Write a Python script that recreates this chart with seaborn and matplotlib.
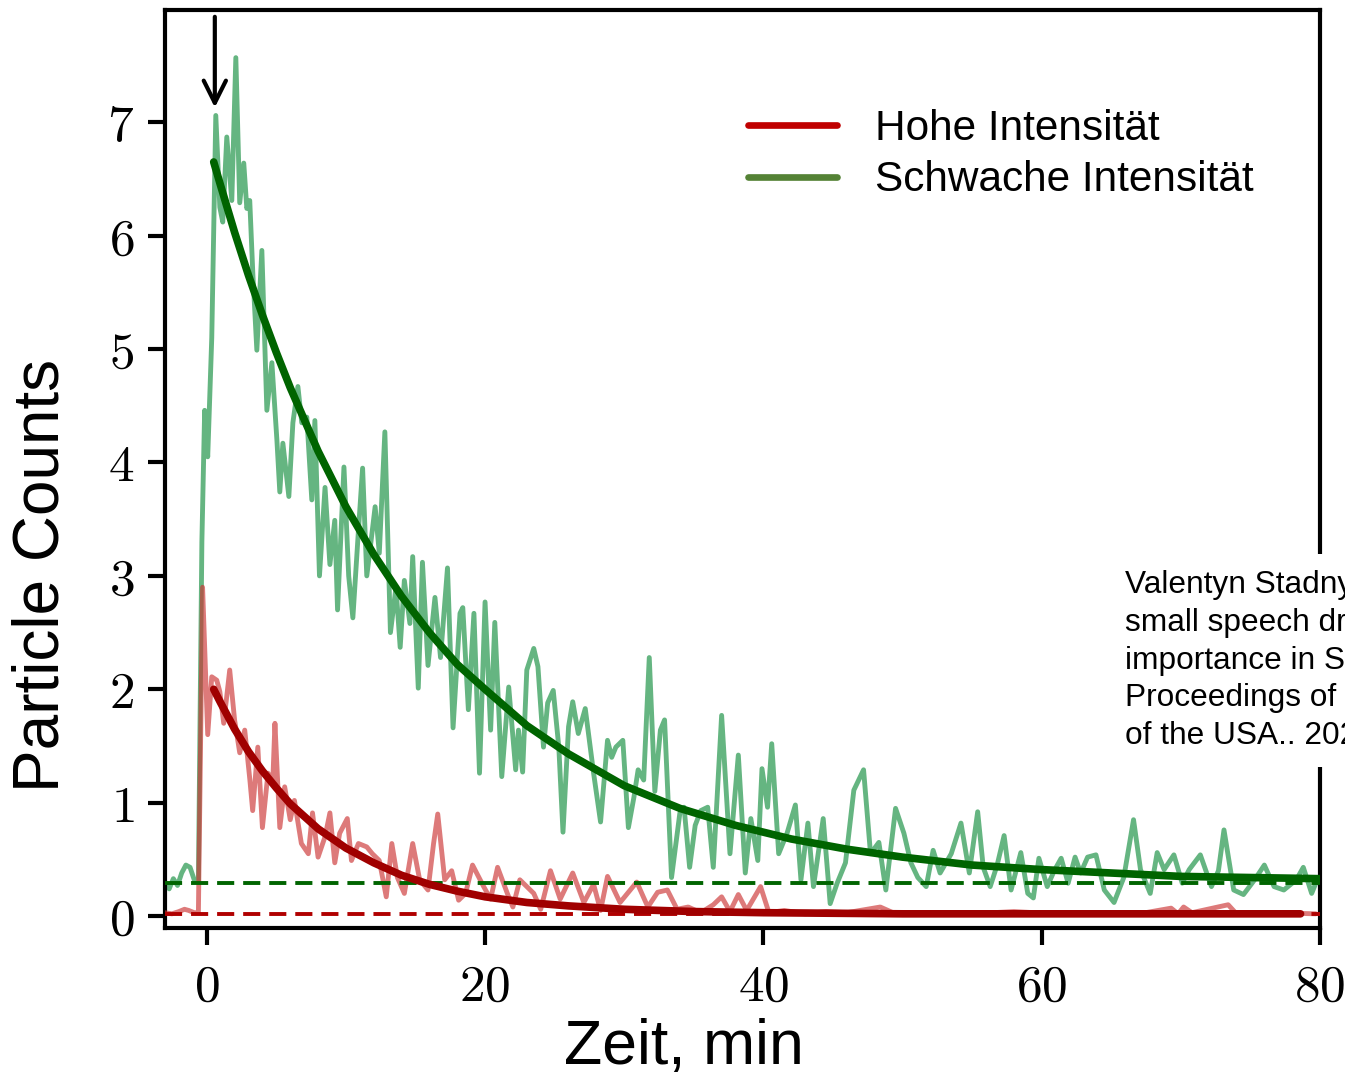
import numpy as np
import pandas as pd
import matplotlib
matplotlib.use("Agg")
import matplotlib.pyplot as plt
import seaborn as sns
from matplotlib.lines import Line2D
from matplotlib.ticker import FuncFormatter

# ---------------- data ----------------
green_t = [-3.0, -2.7, -2.4, -2.1, -1.8, -1.5, -1.2, -0.9, -0.6, -0.35, -0.15, 0.07, 0.36, 0.65,
           0.94, 1.15, 1.44, 1.80, 2.09, 2.37, 2.66, 2.88, 3.09, 3.31, 3.60, 3.96, 4.32, 4.68, 5.04,
           5.25, 5.47, 5.90, 6.19, 6.55, 6.83, 7.19, 7.55, 7.77, 8.10, 8.50, 8.85, 9.20, 9.40, 9.86,
           10.20, 10.50, 10.90, 11.20, 11.50, 11.80, 12.10, 12.40, 12.80, 13.20, 13.60, 13.90, 14.20,
           14.60, 14.80, 15.20, 15.50, 15.90, 16.40, 16.80, 17.30, 17.70, 18.20, 18.40, 18.80, 19.20,
           19.60, 20.00, 20.40, 20.70, 21.20, 21.70, 22.20, 22.40, 22.70, 23.00, 23.50, 23.80, 24.20,
           24.50, 24.90, 25.30, 25.60, 26.00, 26.30, 26.70, 27.20, 27.80, 28.30, 28.80, 29.10, 29.40,
           29.90, 30.30, 30.70, 31.00, 31.40, 31.80, 32.20, 32.60, 32.90, 33.40, 34.00, 34.30, 34.70,
           35.10, 35.50, 36.00, 36.40, 37.00, 37.60, 38.20, 38.70, 39.10, 39.60, 39.90, 40.30, 40.60,
           41.10, 41.70, 42.30, 42.70, 43.20, 43.60, 44.30, 44.80, 45.30, 45.90, 46.50, 47.20, 47.70,
           48.30, 48.80, 49.50, 50.10, 50.60, 51.10, 51.70, 52.20, 52.70, 53.50, 54.20, 54.80, 55.40,
           55.80, 56.30, 56.80, 57.30, 57.80, 58.50, 59.00, 59.40, 59.80, 60.40, 60.90, 61.40, 61.90,
           62.40, 62.80, 63.30, 63.90, 64.50, 65.20, 65.90, 66.60, 67.10, 67.80, 68.30, 68.80, 69.50,
           70.10, 70.60, 71.40, 72.20, 72.70, 73.10, 73.80, 74.50, 75.30, 76.00, 76.70, 77.40, 78.30,
           78.80, 79.40, 79.70]
green_v = [0.30, 0.24, 0.33, 0.27, 0.38, 0.45, 0.43, 0.32, 0.30, 3.30, 4.46, 4.05, 5.10, 7.06,
           6.25, 6.12, 6.87, 6.31, 7.57, 6.29, 6.64, 6.24, 6.31, 5.67, 4.99, 5.87, 4.46, 4.88, 4.20,
           3.74, 4.17, 3.70, 4.35, 4.67, 4.35, 4.40, 3.67, 4.37, 3.00, 3.78, 3.10, 3.49, 2.70, 3.96,
           3.00, 2.63, 3.40, 3.95, 3.00, 3.30, 3.61, 3.20, 4.27, 2.50, 2.90, 2.37, 2.96,
           2.58, 3.17, 2.01, 3.12, 2.21, 2.81, 2.28, 3.07, 1.66, 2.67, 2.72, 1.82, 2.67,
           1.26, 2.77, 1.64, 2.59, 1.23, 2.02, 1.29, 1.64, 1.27, 2.17, 2.36, 2.20, 1.49,
           1.88, 1.99, 1.49, 0.74, 1.67, 1.89, 1.61, 1.83, 1.26, 0.83, 1.55, 1.40, 1.49,
           1.55, 0.78, 1.05, 1.29, 1.20, 2.28, 1.10, 1.64, 1.73, 0.34, 0.91, 0.96, 0.43,
           0.80, 0.93, 0.96, 0.43, 1.77, 0.55, 1.42, 0.38, 0.86, 0.49, 1.30, 0.96, 1.52,
           0.55, 0.73, 0.98, 0.32, 0.82, 0.26, 0.86, 0.11, 0.29, 0.47, 1.11, 1.29, 0.55,
           0.65, 0.23, 0.95, 0.73, 0.47, 0.34, 0.26, 0.58, 0.38, 0.55, 0.82, 0.38, 0.92,
           0.43, 0.26, 0.45, 0.71, 0.23, 0.56, 0.20, 0.16, 0.51, 0.26, 0.40, 0.51, 0.29,
           0.52, 0.38, 0.52, 0.54, 0.23, 0.12, 0.34, 0.85, 0.41, 0.20, 0.56, 0.41, 0.54,
           0.29, 0.41, 0.54, 0.26, 0.40, 0.76, 0.23, 0.19, 0.32, 0.45, 0.26, 0.23, 0.32,
           0.43, 0.20, 0.29]

red_t = [-3.0, -2.5, -2.0, -1.6, -1.3, -0.9, -0.6, -0.3, 0.07, 0.36, 0.72, 0.94, 1.22, 1.65, 2.00,
         2.37, 2.73, 3.10, 3.30, 3.67, 4.00, 4.40, 4.75, 4.90, 5.25, 5.60, 6.00, 6.30, 6.80, 7.30,
         7.60, 8.00, 8.50, 8.85, 9.20, 9.55, 10.10, 10.40, 10.90, 11.50, 11.90, 12.40, 12.90, 13.30,
         13.70, 14.20, 14.80, 15.30, 15.90, 16.30, 16.60, 17.10, 17.60, 18.10, 18.60, 19.10, 19.90,
         20.40, 20.90, 21.60, 22.00, 22.50, 23.50, 24.00, 24.70, 25.40, 26.30, 27.10, 27.80, 28.30,
         28.80, 29.70, 30.90, 31.70, 32.40, 33.10, 33.80, 34.60, 35.50, 36.40, 37.00, 37.60, 38.20,
         38.80, 39.80, 40.40, 41.50, 43.00, 44.50, 46.00, 48.40, 49.50, 52.00, 55.00, 58.00, 61.00,
         64.00, 67.00, 69.30, 69.80, 70.20, 70.80, 73.40, 74.00, 76.50, 79.70]
red_v = [0.03, 0.02, 0.04, 0.06, 0.05, 0.03, 0.03, 2.90, 1.60, 2.11, 2.08, 1.98, 1.70, 2.17, 1.73,
         1.44, 1.64, 1.20, 0.93, 1.49, 0.78, 1.26, 1.20, 1.70, 0.78, 1.14, 0.85, 1.02, 0.64, 0.55,
         0.91, 0.52, 0.70, 0.91, 0.47, 0.73, 0.86, 0.49, 0.64, 0.61, 0.55, 0.49, 0.17, 0.64,
         0.34, 0.20, 0.64, 0.32, 0.23, 0.64, 0.90, 0.32, 0.40, 0.14, 0.20, 0.45, 0.26,
         0.15, 0.43, 0.20, 0.08, 0.32, 0.20, 0.06, 0.40, 0.15, 0.38, 0.12, 0.28, 0.05,
         0.35, 0.12, 0.30, 0.08, 0.21, 0.23, 0.06, 0.08, 0.03, 0.10, 0.17, 0.04, 0.19,
         0.05, 0.26, 0.03, 0.05, 0.02, 0.04, 0.03, 0.08, 0.02, 0.03, 0.02, 0.04, 0.02,
         0.03, 0.02, 0.07, 0.02, 0.08, 0.03, 0.10, 0.02, 0.03, 0.02]

green_fit_t = [0.5, 1, 2, 3, 4, 5, 6, 8, 10, 12, 14, 16, 18, 20, 23, 26, 30, 34, 38, 42, 46, 50,
               55, 60, 65, 70, 75, 80]
green_fit_v = [6.65, 6.44, 6.03, 5.65, 5.30, 4.97, 4.66, 4.10, 3.61, 3.19, 2.82, 2.50, 2.22, 2.00,
               1.68, 1.43, 1.15, 0.95, 0.80, 0.68, 0.59, 0.52, 0.45, 0.41, 0.38, 0.35, 0.34, 0.33]

red_fit_t = [0.5, 1, 2, 3, 4, 5, 6, 8, 10, 12, 14, 16, 18, 20, 23, 26, 30, 35, 40, 50, 60, 70, 78.6]
red_fit_v = [2.00, 1.88, 1.65, 1.45, 1.28, 1.13, 0.99, 0.77, 0.60, 0.47, 0.36, 0.28, 0.22, 0.17,
             0.12, 0.09, 0.06, 0.04, 0.03, 0.02, 0.02, 0.02, 0.02]

green_baseline = 0.29
red_baseline = 0.015

x_ticks = [0, 20, 40, 60, 80]
y_ticks = [0, 1, 2, 3, 4, 5, 6, 7]
legend_labels = ["Hohe Intensität", "Schwache Intensität"]
x_label = "Zeit, min"
y_label = "Particle Counts"
citation = ("Valentyn Stadnytskyi, et al. The airborne lifetime of\n"
            "small speech droplets and their potential\n"
            "importance in SARS-CoV-2 transmission.\n"
            "Proceedings of the National Academy of Sciences\n"
            "of the USA.. 2020")

# ---------------- styling ----------------
sns.set_style("ticks")
plt.rcParams["font.family"] = ["Liberation Sans", "DejaVu Sans"]
plt.rcParams["mathtext.fontset"] = "cm"
for k in ["text.color", "axes.labelcolor", "xtick.color", "ytick.color"]:
    plt.rcParams[k] = "black"

W, H = 1345, 1077
fig = plt.figure(figsize=(W / 100, H / 100), dpi=100)
ax = fig.add_axes([165 / W, 1 - 928 / H, (1320 - 165) / W, (928 - 10) / H])

green_df = pd.DataFrame({"t": green_t, "v": green_v})
red_df = pd.DataFrame({"t": red_t, "v": red_v})
gfit_df = pd.DataFrame({"t": green_fit_t, "v": green_fit_v})
rfit_df = pd.DataFrame({"t": red_fit_t, "v": red_fit_v})

sns.lineplot(data=green_df, x="t", y="v", ax=ax, sort=False, estimator=None,
             color="#3aa05e", alpha=0.78, lw=3.5, zorder=2)
sns.lineplot(data=red_df, x="t", y="v", ax=ax, sort=False, estimator=None,
             color="#cc3333", alpha=0.65, lw=3.5, zorder=3)

ax.axhline(green_baseline, color="#006400", lw=2.8, ls=(0, (4.4, 2.3)), zorder=4)
ax.axhline(red_baseline, color="#b00000", lw=2.8, ls=(0, (4.4, 2.3)), zorder=4)

sns.lineplot(data=gfit_df, x="t", y="v", ax=ax, sort=False, estimator=None,
             color="#006400", lw=5.5, zorder=5)
sns.lineplot(data=rfit_df, x="t", y="v", ax=ax, sort=False, estimator=None,
             color="#a00000", lw=5.5, zorder=5)

ax.annotate("", xy=(0.58, 7.13), xytext=(0.58, 7.93),
            arrowprops=dict(arrowstyle="->", lw=3.0, color="black", mutation_scale=40,
                            shrinkA=0, shrinkB=0), zorder=6)

ax.set_xlim(-3.0, 80)
ax.set_ylim(-0.105, 7.99)
ax.set_xticks(x_ticks)
ax.set_yticks(y_ticks)
fmt = FuncFormatter(lambda v, p: r"$%d$" % int(round(v)))
ax.xaxis.set_major_formatter(fmt)
ax.yaxis.set_major_formatter(fmt)
ax.tick_params(axis="both", direction="out", length=12, width=3, labelsize=37, color="black",
               labelcolor="black")
ax.tick_params(axis="x", pad=13)
ax.tick_params(axis="y", pad=10)
for s in ax.spines.values():
    s.set_visible(True)
    s.set_linewidth(3)
    s.set_color("black")
ax.set_xlabel("")
ax.set_ylabel("")

fig.text(684 / W, 1 - 1048 / H, x_label, fontsize=45, ha="center", va="center")
fig.text(42 / W, 1 - 575 / H, y_label, fontsize=46, ha="center", va="center", rotation=90)

handles = [Line2D([], [], color="#c00000", lw=4.8),
           Line2D([], [], color="#548235", lw=4.8)]
fig.legend(handles, legend_labels, loc="upper left", bbox_to_anchor=(748 / W, 1 - 109 / H),
           frameon=False, fontsize=30.5, handlelength=2.1, handletextpad=0.9,
           labelspacing=0.27, borderpad=0, borderaxespad=0)

fig.text(1125 / W, 1 - 570 / H, citation, fontsize=22.8, ha="left", va="top", linespacing=1.34,
         bbox=dict(boxstyle="square,pad=0.5", fc="white", ec="none"), zorder=10)

fig.savefig("out.png", dpi=100)
